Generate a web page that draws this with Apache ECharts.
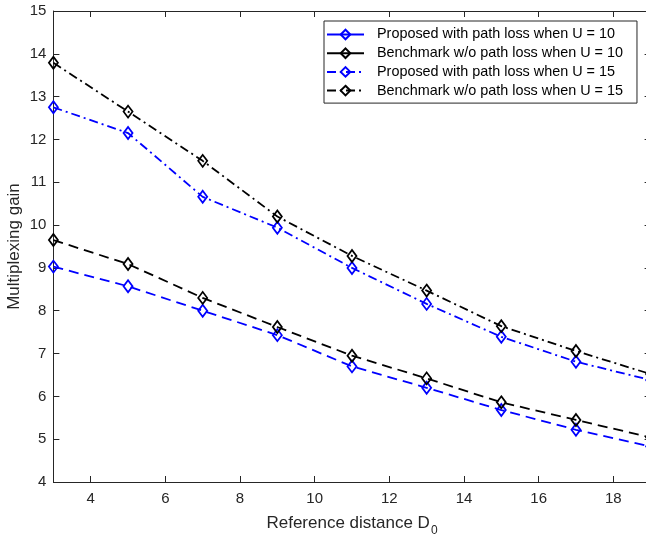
<!DOCTYPE html>
<html>
<head>
<meta charset="utf-8">
<script src="https://cdn.jsdelivr.net/npm/echarts@6/dist/echarts.min.js"></script>
<style>
html,body{margin:0;padding:0;background:#fff;}
#c{width:646px;height:535px;}
</style>
</head>
<body>
<div id="c"></div>
<script>
const xValues = [3, 5, 7, 9, 11, 13, 15, 17, 19];
const proposedU10 = [9.03, 8.57, 8.00, 7.43, 6.70, 6.20, 5.68, 5.22, 4.83];
const benchmarkU10 = [9.65, 9.09, 8.30, 7.62, 6.95, 6.42, 5.86, 5.45, 5.04];
const proposedU15 = [12.75, 12.15, 10.66, 9.94, 9.00, 8.16, 7.39, 6.81, 6.38];
const benchmarkU15 = [13.79, 12.65, 11.50, 10.20, 9.28, 8.47, 7.64, 7.06, 6.52];
const xTicks = [4, 6, 8, 10, 12, 14, 16, 18];
const seriesNames = [
  'Proposed with path loss when U = 10',
  'Benchmark w/o path loss when U = 10',
  'Proposed with path loss when U = 15',
  'Benchmark w/o path loss when U = 15'
];

const FONT = '"Liberation Sans", Arial, Helvetica, sans-serif';
const AX = '#262626';
const BLUE = '#0000ff';
const BLACK = '#000000';
const DASH = [10, 6];
const DASHDOT = [9, 4, 2, 4];

function pairs(ys) { return xValues.map((x, i) => [x, ys[i]]); }
function mk(name, ys, color, dash) {
  return {
    name: name,
    type: 'line',
    data: pairs(ys),
    symbol: 'diamond',
    symbolSize: [9, 12],
    showSymbol: true,
    lineStyle: { color: color, width: 1.8, type: dash },
    itemStyle: { color: 'rgba(255,255,255,0)', borderColor: color, borderWidth: 1.8 },
    emphasis: { disabled: true },
    animation: false,
    clip: true
  };
}

const chart = echarts.init(document.getElementById('c'), null, { renderer: 'canvas' });
const axisCommonX = {
  type: 'value', min: 3, max: 19,
  axisLine: { show: true, onZero: false, lineStyle: { color: AX, width: 1 } },
  splitLine: { show: false }
};
chart.setOption({
  backgroundColor: '#ffffff',
  animation: false,
  textStyle: { fontFamily: FONT },
  grid: { left: 53.4, top: 11, width: 597.2, height: 471, containLabel: false, outerBoundsMode: 'none' },
  legend: {
    orient: 'vertical',
    left: 324, top: 21,
    padding: [6, 14, 5, 2],
    itemGap: 3.7,
    itemWidth: 37,
    itemHeight: 12,
    borderColor: AX,
    borderWidth: 1,
    backgroundColor: '#ffffff',
    textStyle: { fontFamily: FONT, fontSize: 14.4, color: '#000', lineHeight: 15, padding: [0, 0, 0, 8] },
    data: [
      { name: seriesNames[0], lineStyle: { type: 'solid' } },
      { name: seriesNames[1], lineStyle: { type: 'solid' } },
      { name: seriesNames[2] },
      { name: seriesNames[3] }
    ]
  },
  xAxis: [
    Object.assign({}, axisCommonX, {
      position: 'bottom',
      name: '{a|Reference distance D}{b|0}',
      nameLocation: 'middle',
      nameGap: 33,
      nameMoveOverlap: false,
      nameTextStyle: {
        color: AX, fontFamily: FONT,
        rich: {
          a: { fontSize: 17, lineHeight: 17, color: AX, fontFamily: FONT, verticalAlign: 'top' },
          b: { fontSize: 12, lineHeight: 22, color: AX, fontFamily: FONT, verticalAlign: 'bottom', padding: [0, 0, 0, 1] }
        }
      },
      axisTick: { show: true, inside: true, length: 6, customValues: xTicks, lineStyle: { color: AX } },
      axisLabel: { show: true, customValues: xTicks, margin: 9, fontSize: 15, color: AX, fontFamily: FONT }
    }),
    Object.assign({}, axisCommonX, {
      position: 'top',
      axisTick: { show: true, inside: true, length: 6, customValues: xTicks, lineStyle: { color: AX } },
      axisLabel: { show: false }
    })
  ],
  yAxis: [
    {
      type: 'value', min: 4, max: 15, interval: 1, position: 'left',
      name: 'Multiplexing gain',
      nameLocation: 'middle',
      nameGap: 31,
      nameMoveOverlap: false,
      nameTextStyle: { fontSize: 17, color: AX, fontFamily: FONT },
      axisLine: { show: true, onZero: false, lineStyle: { color: AX, width: 1 } },
      axisTick: { show: true, inside: true, length: 6, lineStyle: { color: AX } },
      axisLabel: { margin: 7, fontSize: 15, color: AX, fontFamily: FONT },
      splitLine: { show: false }
    },
    {
      type: 'value', min: 4, max: 15, interval: 1, position: 'right',
      axisLine: { show: true, onZero: false, lineStyle: { color: AX, width: 1 } },
      axisTick: { show: true, inside: true, length: 6, lineStyle: { color: AX } },
      axisLabel: { show: false },
      splitLine: { show: false }
    }
  ],
  series: [
    mk(seriesNames[0], proposedU10, BLUE, DASH),
    mk(seriesNames[1], benchmarkU10, BLACK, DASH),
    mk(seriesNames[2], proposedU15, BLUE, DASHDOT),
    mk(seriesNames[3], benchmarkU15, BLACK, DASHDOT)
  ]
});
</script>
</body>
</html>
